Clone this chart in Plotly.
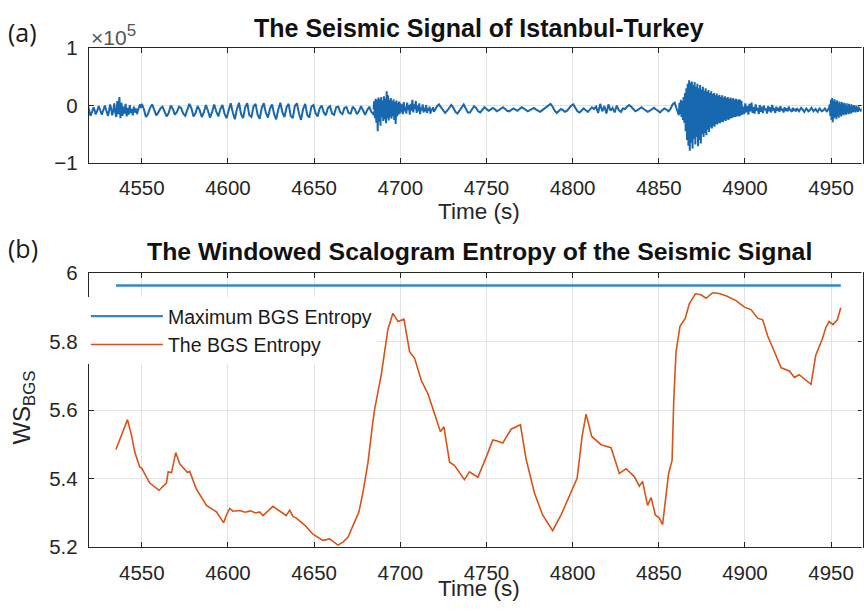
import numpy as np
import plotly.graph_objects as go

W, H = 864, 615

# ---------------- seismic trace (amplitude in units of 1e5) ----------------
# each segment: start time (s), sample step (s), amplitudes
seg_a_start, seg_a_step = 4519.0, 0.6
seg_a = [-0.02, -0.10, -0.18, -0.14, -0.06, -0.03, -0.08, -0.15, -0.12, -0.05,
         -0.01, -0.06, -0.13, -0.16, -0.10, -0.03, 0.00, -0.07, -0.14, -0.18,
         -0.09, 0.02, -0.05, -0.17, -0.10, 0.04, -0.12, -0.20, 0.08, -0.15,
         0.15, -0.22, 0.05, -0.18, -0.02, -0.14, 0.03, -0.19, -0.04, -0.16,
         0.01, -0.13, -0.06, -0.17, -0.02, -0.12, -0.05, -0.15, -0.08, -0.03,
         0.02, -0.04]

seg_b_start, seg_b_step = 4550.0, 1.2
seg_b = [0.03, -0.06, -0.20, -0.15, -0.04, 0.02, -0.08, -0.17, -0.12, -0.05,
         -0.02, -0.10, -0.19, -0.13, 0.00, -0.06, -0.16, -0.11, -0.02, -0.04,
         -0.14, -0.18, -0.07, 0.03, -0.05, -0.19, -0.13, -0.01, -0.08, -0.20,
         -0.12, 0.01, -0.09, -0.21, -0.11, 0.02, -0.10, -0.19, -0.06, 0.01,
         -0.14, -0.22, -0.08, 0.04, -0.12, -0.24, -0.06, 0.05, -0.15, -0.22,
         -0.03, 0.04, -0.17, -0.20, -0.02, 0.03, -0.16, -0.23, -0.04, 0.04,
         -0.13, -0.21, -0.05, 0.02, -0.15, -0.24, -0.07, 0.05, -0.12, -0.20,
         -0.03, 0.03, -0.18, -0.22, -0.01, 0.04, -0.14, -0.25, -0.06, 0.03,
         -0.16, -0.21, -0.02, 0.01, -0.13, -0.19, -0.05, 0.00, -0.12, -0.17,
         -0.04, -0.01, -0.14, -0.16, -0.03, -0.02, -0.12, -0.15, -0.04, -0.03,
         -0.13, -0.14, -0.02, -0.06, -0.15, -0.10, -0.01, -0.09, -0.16, -0.08,
         -0.02, -0.11, -0.15, -0.06, -0.01, -0.12, -0.13]

seg_c_start, seg_c_step = 4684.5, 0.4
seg_c = [-0.05, 0.08, -0.22, 0.12, -0.30, 0.10, -0.45, 0.14, -0.28, 0.11,
         -0.35, 0.15, -0.20, 0.09, -0.27, 0.16, -0.24, 0.12, -0.31, 0.25,
         -0.22, 0.18, -0.26, 0.10, -0.20, 0.13, -0.23, 0.08, -0.18, 0.11,
         -0.25, 0.06, -0.32, 0.09, -0.19, 0.05, -0.16, 0.07, -0.14]

seg_d_start, seg_d_step = 4700.0, 0.5
seg_d = [0.04, -0.12, 0.02, -0.15, 0.06, -0.10, -0.02, -0.14, 0.05, -0.08,
         0.01, -0.16, 0.03, -0.09, 0.10, -0.12, 0.02, -0.06, 0.08, -0.13,
         0.00, -0.10, 0.04, -0.15, -0.03, -0.08, 0.02, -0.12, -0.04, -0.10,
         0.01, -0.13, -0.05, -0.09, -0.02, -0.14, -0.06, -0.08, -0.03, -0.11]

seg_e_start, seg_e_step = 4720.0, 1.2
seg_e = [-0.08, -0.02, 0.02, -0.03, -0.10, -0.13, -0.09, -0.03, 0.01, -0.04,
         -0.11, -0.14, -0.08, -0.02, 0.02, -0.05, -0.12, -0.12, -0.06, -0.01,
         -0.04, -0.10, -0.12, -0.07, -0.03,
         -0.06, -0.09, -0.07, -0.04, -0.06, -0.10, -0.08, -0.05, -0.03, -0.06,
         -0.09, -0.10, -0.07, -0.05, -0.07, -0.09, -0.06, -0.03, -0.05, -0.08,
         -0.10, -0.08, -0.06, -0.04, -0.07, -0.09, -0.11, -0.08, -0.05,
         -0.03, 0.01, 0.03, -0.02, -0.09, -0.13, -0.10, -0.06, -0.08, -0.11,
         -0.09, -0.04, 0.00, 0.02, -0.04, -0.10, -0.12, -0.08, -0.05, -0.08,
         -0.11, -0.07, -0.03, -0.06,
         -0.02, -0.13, 0.03, -0.10, -0.01, -0.14, 0.02, -0.09, -0.04, -0.12,
         0.00, -0.08, -0.11, -0.05,
         -0.06, -0.02, 0.01, -0.02, -0.07, -0.10, -0.08, -0.05, -0.03, -0.06,
         -0.09, -0.11, -0.09, -0.06, -0.04, -0.07, -0.10, -0.12, -0.08, -0.05,
         -0.07, -0.10, -0.06, 0.02, 0.05, -0.08, -0.17]

seg_f_start, seg_f_step = 4862.0, 0.4
seg_f = [0.05, -0.15, 0.10, -0.20, 0.08, -0.25, 0.15, -0.30,
         0.22, -0.45, 0.30, -0.60, 0.38, -0.70, 0.44, -0.79,
         0.40, -0.65, 0.42, -0.75, 0.36, -0.58, 0.41, -0.68,
         0.33, -0.55, 0.38, -0.71, 0.30, -0.60, 0.36, -0.66,
         0.28, -0.50, 0.33, -0.55, 0.26, -0.48, 0.30, -0.52,
         0.24, -0.42, 0.27, -0.46, 0.22, -0.38, 0.25, -0.40,
         0.20, -0.35, 0.22, -0.37, 0.18, -0.32, 0.21, -0.33,
         0.17, -0.30, 0.19, -0.31, 0.15, -0.28, 0.18, -0.29,
         0.14, -0.26, 0.16, -0.27, 0.13, -0.24, 0.15, -0.25,
         0.12, -0.23, 0.14, -0.22, 0.11, -0.21, 0.13, -0.20,
         0.10, -0.20, 0.12, -0.19, 0.09, -0.18, 0.11, -0.19,
         0.10, -0.17, 0.08, -0.16]

seg_g_start, seg_g_step = 4899.0, 0.6
seg_g = [-0.02, -0.15, 0.04, -0.12, -0.01, -0.16, 0.03, -0.10, 0.05, -0.13,
         -0.03, -0.14, 0.02, -0.09, -0.04, -0.15, 0.01, -0.11, -0.02, -0.13,
         0.00, -0.08, -0.05, -0.14, -0.01, -0.10, -0.03, -0.12, 0.01, -0.07,
         -0.06, -0.13, -0.02, -0.09, -0.04, -0.11, -0.01, -0.08, -0.06, -0.12,
         -0.03, -0.09, -0.05, -0.10, -0.02, -0.07, -0.08, -0.11, -0.04, -0.09,
         -0.06, -0.10,
         -0.05, -0.08, -0.10, -0.07, -0.04, -0.06, -0.09, -0.11, -0.08, -0.05,
         -0.07, -0.10, -0.09, -0.06, -0.04, -0.07, -0.10, -0.08, -0.06, -0.09,
         -0.11, -0.07, -0.05, -0.08, -0.10, -0.09, -0.06, -0.05, -0.08, -0.11,
         -0.07, -0.04]

seg_h_start, seg_h_step = 4949.2, 0.35
seg_h = [0.02, -0.18, 0.10, -0.25, 0.13, -0.29, 0.08, -0.22, 0.11, -0.20,
         0.06, -0.24, 0.09, -0.18, 0.04, -0.21, 0.07, -0.16, 0.03, -0.19,
         0.06, -0.15, 0.02, -0.17, 0.05, -0.14, 0.00, -0.16, 0.04, -0.12,
         -0.01, -0.15, 0.03, -0.13, -0.02, -0.14, 0.02, -0.11, -0.03, -0.12,
         0.01, -0.10, -0.04, -0.12, 0.00, -0.09, -0.05, -0.11, -0.02, -0.08]

seg_i_start, seg_i_step = 4966.6, 0.8
seg_i = [-0.06, -0.10, -0.04, -0.08, -0.11, -0.05, -0.07, -0.09]

segments = [
    (seg_a_start, seg_a_step, seg_a), (seg_b_start, seg_b_step, seg_b),
    (seg_c_start, seg_c_step, seg_c), (seg_d_start, seg_d_step, seg_d),
    (seg_e_start, seg_e_step, seg_e), (seg_f_start, seg_f_step, seg_f),
    (seg_g_start, seg_g_step, seg_g), (seg_h_start, seg_h_step, seg_h),
    (seg_i_start, seg_i_step, seg_i),
]
sig_t = np.concatenate([s + dt * np.arange(len(v)) for s, dt, v in segments])
sig_v = np.concatenate([np.asarray(v, float) for _, _, v in segments])

# ---------------- windowed scalogram entropy ----------------
entropy_time = [
    4535.0, 4541.7, 4544.0, 4546.0, 4548.8, 4550.0, 4554.6, 4560.0, 4564.3, 4565.3,
    4567.2, 4569.7, 4572.0, 4575.5, 4576.5, 4577.8, 4581.7, 4587.5, 4593.3, 4597.5,
    4599.1, 4601.0, 4602.9, 4606.8, 4610.0, 4613.0, 4616.0, 4618.4, 4620.3, 4626.1,
    4628.0, 4631.9, 4633.8, 4635.8, 4637.7, 4639.7, 4645.0, 4649.3, 4655.1, 4659.0,
    4663.8, 4666.7, 4669.6, 4672.5, 4676.0, 4678.3, 4681.2, 4683.7, 4685.1, 4689.0,
    4692.8, 4695.7, 4698.7, 4702.1, 4705.4, 4708.3, 4712.2, 4716.0, 4719.9, 4723.3,
    4725.3, 4728.6, 4731.4, 4737.2, 4740.1, 4745.0, 4749.8, 4753.7, 4756.6, 4759.5,
    4764.3, 4769.7, 4773.0, 4777.8, 4782.6, 4788.4, 4793.3, 4799.1, 4802.6, 4805.5,
    4807.8, 4811.1, 4816.5, 4822.3, 4827.1, 4831.0, 4835.8, 4838.7, 4840.6, 4843.5,
    4845.5, 4848.0, 4850.3, 4852.2, 4853.8, 4855.7, 4857.7, 4858.7, 4860.0, 4862.3,
    4865.4, 4867.7, 4871.2, 4874.5, 4877.4, 4881.2, 4885.0, 4889.0, 4894.8, 4899.7,
    4903.5, 4907.4, 4910.3, 4913.2, 4917.1, 4921.0, 4925.8, 4928.7, 4931.4, 4935.4,
    4938.3, 4939.6, 4941.1, 4943.0, 4944.9, 4946.9, 4948.8, 4951.1, 4953.6, 4955.6]
entropy_value = [
    5.485, 5.572, 5.527, 5.476, 5.434, 5.430, 5.387, 5.366, 5.387, 5.420,
    5.417, 5.476, 5.443, 5.425, 5.418, 5.421, 5.369, 5.322, 5.303, 5.271,
    5.294, 5.313, 5.305, 5.307, 5.302, 5.306, 5.300, 5.303, 5.292, 5.319,
    5.313, 5.299, 5.292, 5.308, 5.290, 5.285, 5.262, 5.238, 5.220, 5.224,
    5.206, 5.215, 5.229, 5.262, 5.303, 5.359, 5.445, 5.550, 5.602, 5.704,
    5.835, 5.882, 5.858, 5.865, 5.770, 5.751, 5.686, 5.648, 5.592, 5.537,
    5.551, 5.448, 5.439, 5.397, 5.420, 5.404, 5.462, 5.513, 5.509, 5.504,
    5.544, 5.557, 5.457, 5.359, 5.294, 5.248, 5.294, 5.359, 5.401, 5.523,
    5.588, 5.523, 5.499, 5.490, 5.415, 5.429, 5.406, 5.378, 5.392, 5.322,
    5.345, 5.294, 5.285, 5.266, 5.331, 5.415, 5.453, 5.630, 5.770, 5.844,
    5.868, 5.910, 5.939, 5.936, 5.926, 5.942, 5.940, 5.933, 5.919, 5.900,
    5.893, 5.868, 5.863, 5.816, 5.770, 5.723, 5.714, 5.695, 5.703, 5.686,
    5.675, 5.714, 5.760, 5.784, 5.807, 5.840, 5.858, 5.849, 5.863, 5.898]
max_bgs_entropy = 5.963

x_ticks = [4550, 4600, 4650, 4700, 4750, 4800, 4850, 4900, 4950]
sig_ticks = [-1, 0, 1]
ent_ticks = [5.2, 5.4, 5.6, 5.8, 6.0]
ent_tick_text = ["5.2", "5.4", "5.6", "5.8", "6"]

# ---------------- figure ----------------
def px(x):
    return x / W

def py(y):
    return 1 - y / H

FONT = "Liberation Sans, Arial, Helvetica, sans-serif"
AX = "#262626"
ORANGE = "#D95319"

fig = go.Figure()
fig.add_trace(go.Scatter(x=sig_t, y=sig_v, mode="lines", xaxis="x", yaxis="y",
                         line=dict(color="#1868b0", width=2.0), showlegend=False))
fig.add_trace(go.Scatter(x=[entropy_time[0], entropy_time[-1]],
                         y=[max_bgs_entropy, max_bgs_entropy], mode="lines",
                         xaxis="x2", yaxis="y2", name="Maximum BGS Entropy",
                         line=dict(color="#3088cf", width=2.4)))
fig.add_trace(go.Scatter(x=entropy_time, y=entropy_value, mode="lines",
                         xaxis="x2", yaxis="y2", name="The BGS Entropy",
                         line=dict(color=ORANGE, width=1.6)))

x_range = [4519.3, 4968.5]
common_axis = dict(showline=True, linecolor=AX, linewidth=1.2, mirror="ticks",
                   ticks="inside", ticklen=5, tickcolor=AX, tickwidth=1,
                   showgrid=True, gridcolor="#e3e3e3", gridwidth=1,
                   zeroline=False, tickfont=dict(family=FONT, size=20.5, color=AX))

fig.update_layout(
    width=W, height=H, margin=dict(l=0, r=0, t=0, b=0),
    paper_bgcolor="white", plot_bgcolor="white",
    xaxis=dict(domain=[px(89), 1.0], range=x_range, tickvals=x_ticks,
               anchor="y", ticklabelstandoff=6, **common_axis),
    yaxis=dict(domain=[py(156.7), py(37.7)], range=[-1, 1], tickvals=sig_ticks,
               anchor="x", ticklabelstandoff=6, **common_axis),
    xaxis2=dict(domain=[px(89), 1.0], range=x_range, tickvals=x_ticks,
                anchor="y2", ticklabelstandoff=7, **common_axis),
    yaxis2=dict(domain=[py(556), py(271)], range=[5.2, 6.0], tickvals=ent_ticks,
                ticktext=ent_tick_text, anchor="x2", ticklabelstandoff=6,
                **common_axis),
    legend=dict(x=px(86), y=py(296), xanchor="left", yanchor="top",
                bgcolor="white", borderwidth=0, itemwidth=72,
                font=dict(family=FONT, size=19.5, color="#1a1a1a"),
                tracegroupgap=0),
    # hide the right frame edge so only the inward tick marks show there
    shapes=[dict(type="rect", xref="paper", yref="paper", layer="above",
                 x0=px(862.6), x1=1.0, y0=py(562), y1=py(31),
                 fillcolor="white", line=dict(width=0))],
)

ann = [
    dict(text="(a)", x=px(6), y=py(21), xanchor="left", yanchor="middle",
         font=dict(family="Open Sans, sans-serif", size=25, color="#1a1a1a")),
    dict(text="(b)", x=px(6), y=py(245), xanchor="left", yanchor="middle",
         font=dict(family="Open Sans, sans-serif", size=25, color="#1a1a1a")),
    dict(text="<b>The Seismic Signal of Istanbul-Turkey</b>", x=px(480), y=py(17),
         xanchor="center", yanchor="middle",
         font=dict(family=FONT, size=25, color="#111111")),
    dict(text="<b>The Windowed Scalogram Entropy of the Seismic Signal</b>",
         x=px(480), y=py(249), xanchor="center", yanchor="middle",
         font=dict(family=FONT, size=24.8, color="#111111")),
    dict(text="×10<sup><span style='font-size:17px'>5</span></sup>", x=px(89),
         y=py(24), xanchor="left", yanchor="middle",
         font=dict(family=FONT, size=21, color="#555555")),
    dict(text="Time (s)", x=px(480), y=py(207), xanchor="center", yanchor="middle",
         font=dict(family=FONT, size=22.5, color=AX)),
    dict(text="Time (s)", x=px(480), y=py(599), xanchor="center", yanchor="middle",
         font=dict(family=FONT, size=22.5, color=AX)),
    dict(text="WS<sub>BGS</sub>", x=px(24), y=py(411), xanchor="center",
         yanchor="middle", textangle=-90,
         font=dict(family=FONT, size=24, color=AX)),
]
for a in ann:
    a.update(xref="paper", yref="paper", showarrow=False)
fig.update_layout(annotations=ann)

fig.write_html("out.html")
